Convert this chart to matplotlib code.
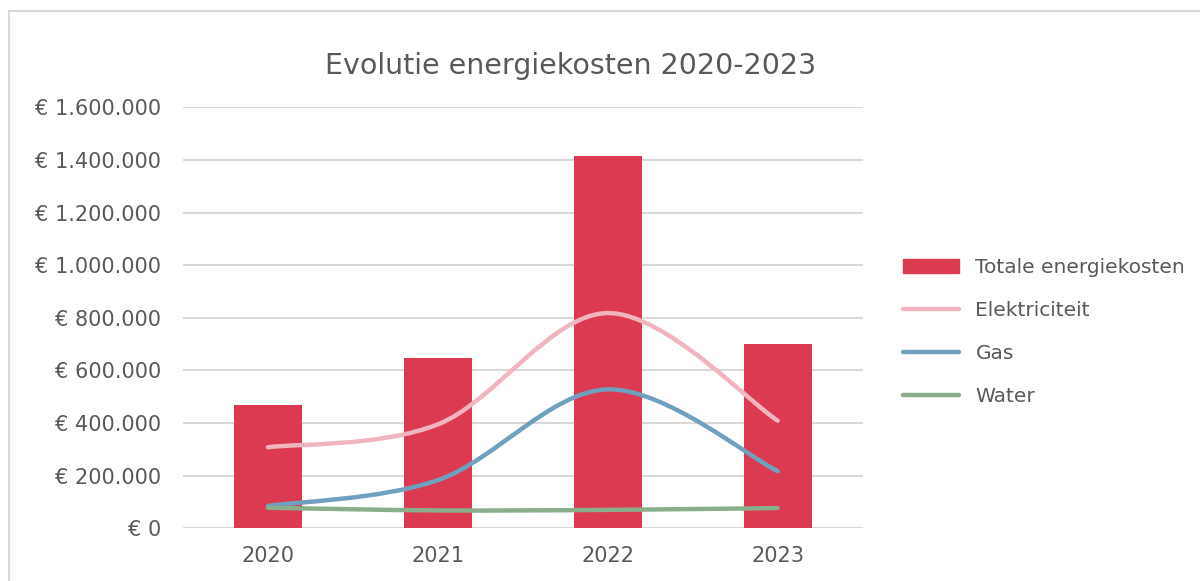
import matplotlib
matplotlib.use('Agg')
import matplotlib.pyplot as plt
from matplotlib.path import Path
from matplotlib.patches import PathPatch, Rectangle, Patch
from matplotlib.lines import Line2D
from matplotlib.ticker import FuncFormatter

years = ['2020', '2021', '2022', '2023']
totaal = [469000, 646000, 1416000, 702000]   # Totale energiekosten (bars)
elektriciteit = [308000, 395000, 818000, 409000]
gas = [85000, 183000, 528000, 217000]
water = [78000, 68000, 70000, 77000]

c_bar = '#DC3A50'
c_elek = '#F0B5BF'
c_gas = '#6FA0BE'
c_water = '#8AAD8A'
c_text = '#595959'
c_grid = '#D9D9D9'

plt.rcParams['font.family'] = ['DejaVu Sans']

def smooth_path(xs, ys):
    # Excel-style smoothed line: cubic bezier segments (catmull-rom tangents)
    n = len(xs)
    verts = [(xs[0], ys[0])]
    codes = [Path.MOVETO]
    for i in range(n - 1):
        p0 = (xs[max(i - 1, 0)], ys[max(i - 1, 0)])
        p1 = (xs[i], ys[i])
        p2 = (xs[i + 1], ys[i + 1])
        p3 = (xs[min(i + 2, n - 1)], ys[min(i + 2, n - 1)])
        c1 = (p1[0] + (p2[0] - p0[0]) / 6, p1[1] + (p2[1] - p0[1]) / 6)
        c2 = (p2[0] - (p3[0] - p1[0]) / 6, p2[1] - (p3[1] - p1[1]) / 6)
        verts += [c1, c2, p2]
        codes += [Path.CURVE4] * 3
    return Path(verts, codes)

fig = plt.figure(figsize=(12, 5.81), dpi=100)
ax = fig.add_axes([0.1525, 0.0907, 0.5664, 0.7246])

x = list(range(len(years)))
ax.bar(x, totaal, width=0.4, color=c_bar, zorder=2)

for vals, col in [(elektriciteit, c_elek), (gas, c_gas), (water, c_water)]:
    ax.add_patch(PathPatch(smooth_path(x, vals), fill=False, edgecolor=col, lw=3.2,
                           capstyle='round', joinstyle='round', zorder=3))

ax.set_xlim(-0.5, 3.5)
ax.set_ylim(0, 1600000)
ax.set_yticks(range(0, 1600001, 200000))
ax.yaxis.set_major_formatter(FuncFormatter(lambda v, p: '€ ' + '{:,}'.format(int(v)).replace(',', '.')))
ax.set_xticks(x)
ax.set_xticklabels(years)
ax.tick_params(axis='both', length=0, labelsize=15, labelcolor=c_text)
ax.tick_params(axis='y', pad=16)
ax.tick_params(axis='x', pad=13)
ax.grid(axis='y', color=c_grid, lw=1.5, zorder=0)
ax.set_axisbelow(True)
for s in ax.spines.values():
    s.set_visible(False)

fig.text(571 / 1200, 1 - 74 / 581, 'Evolutie energiekosten 2020-2023', ha='center', va='baseline',
         fontsize=20.5, color=c_text)

handles = [Patch(color=c_bar),
           Line2D([], [], color=c_elek, lw=3.2, solid_capstyle='round'),
           Line2D([], [], color=c_gas, lw=3.2, solid_capstyle='round'),
           Line2D([], [], color=c_water, lw=3.2, solid_capstyle='round')]
labels = ['Totale energiekosten', 'Elektriciteit', 'Gas', 'Water']
leg = fig.legend(handles, labels, loc='center left', bbox_to_anchor=(903 / 1200, 1 - 332 / 581),
                 frameon=False, fontsize=14.5, handlelength=2.8, handletextpad=0.8,
                 labelspacing=1.19, borderpad=0, borderaxespad=0)
for t in leg.get_texts():
    t.set_color(c_text)

# light grey chart border (cut off at right and bottom)
fig.patches.append(Rectangle((9 / 1200, -0.1), 1.2, 1.1 - 11 / 581, transform=fig.transFigure,
                             fill=False, edgecolor=c_grid, lw=1.5))

plt.savefig('out.png', dpi=100)
